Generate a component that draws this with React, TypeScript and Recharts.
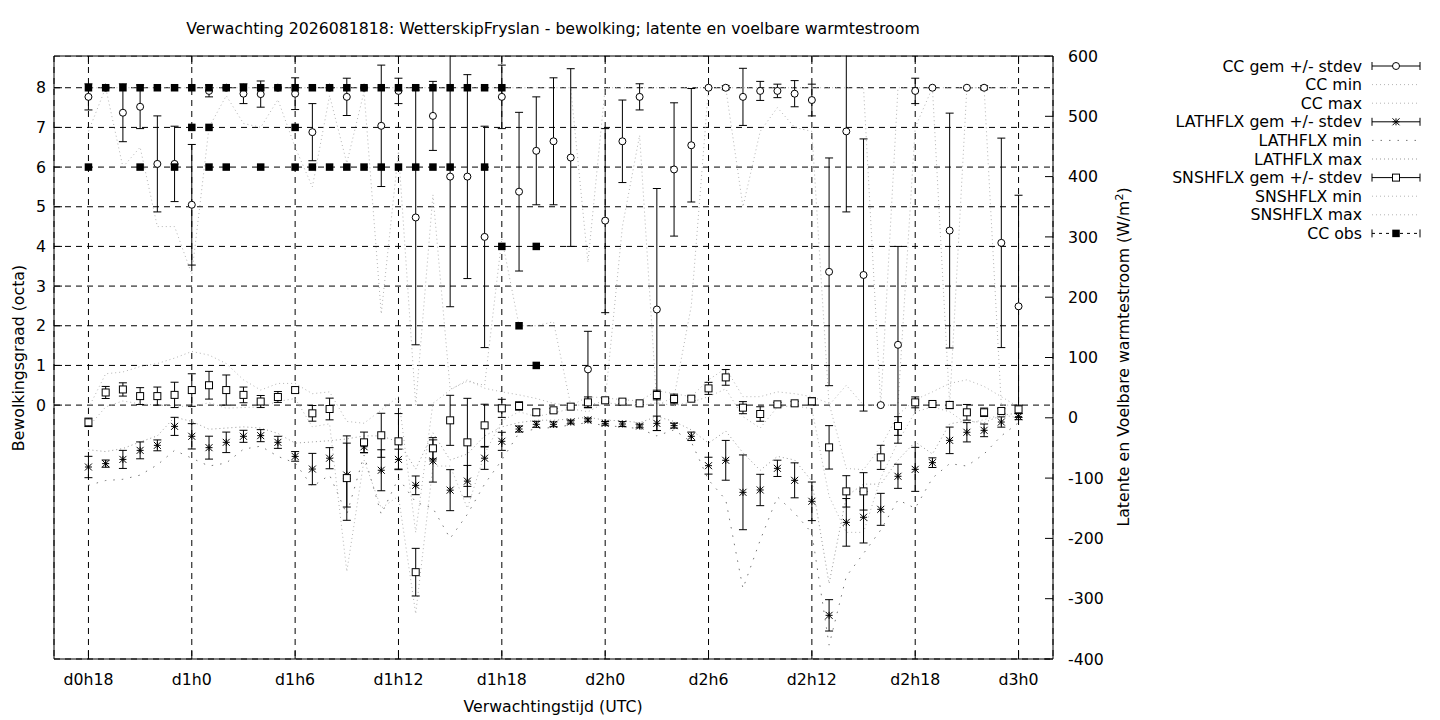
import React from 'react';
import { ComposedChart, Line, XAxis, YAxis, CartesianGrid, ErrorBar, ReferenceLine } from 'recharts';

// forecast hour offset from d0h18
const hours = [0, 1, 2, 3, 4, 5, 6, 7, 8, 9, 10, 11, 12, 13, 14, 15, 16, 17, 18, 19, 20, 21, 22, 23, 24, 25, 26, 27, 28, 29, 30, 31, 32, 33, 34, 35, 36, 37, 38, 39, 40, 41, 42, 43, 44, 45, 46, 47, 48, 49, 50, 51, 52, 53, 54];
const xTickValues = [0, 6, 12, 18, 24, 30, 36, 42, 48, 54];
const xTickLabels = ['d0h18', 'd1h0', 'd1h6', 'd1h12', 'd1h18', 'd2h0', 'd2h6', 'd2h12', 'd2h18', 'd3h0'];
const ccTicks = [0, 1, 2, 3, 4, 5, 6, 7, 8];
const fluxTicks = [-400, -300, -200, -100, 0, 100, 200, 300, 400, 500, 600];

// cloud cover (octa)
const ccMean = [7.77, 8, 7.37, 7.52, 6.08, 6.08, 5.05, 7.92, 8, 7.85, 7.84, 8, 7.85, 6.88, 8, 7.77, 8, 7.04, 7.92, 4.73, 7.29, 5.76, 5.76, 4.24, 7.77, 5.38, 6.41, 6.65, 6.24, 0.9, 4.65, 6.65, 7.77, 2.41, 5.94, 6.55, 8, 8, 7.77, 7.92, 7.92, 7.85, 7.69, 3.36, 6.9, 3.28, 0, 1.52, 7.92, 8, 4.4, 8, 8, 4.09, 2.49];
const ccStd = [0.33, 0, 0.73, 0.55, 1.21, 0.95, 1.52, 0.15, 0, 0.25, 0.33, 0, 0.4, 0.72, 0, 0.47, 0, 1.53, 0.32, 3.21, 0.87, 3.28, 2.57, 2.79, 0.8, 2.0, 1.36, 1.6, 2.24, 0.96, 2.32, 1.04, 0.33, 3.05, 1.68, 1.43, 0, 0.05, 0.72, 0.24, 0.17, 0.33, 0.4, 2.87, 2.03, 3.43, 0, 2.48, 0.32, 0, 2.96, 0, 0.05, 2.64, 2.8];
const ccMin = [6.9, 8, 6.0, 6.5, 4.5, 4.5, 3.3, 7.0, 7.8, 7.1, 7.0, 7.7, 6.5, 5.5, 7.8, 6.1, 7.9, 2.3, 6.4, 0, 5.3, 0.4, 0.6, 0.5, 4.2, 2.0, 2.0, 2.1, 0, 0, 0.1, 4.5, 6.8, 0, 0.2, 2.5, 8, 8, 5.0, 6.9, 7.5, 7.0, 6.9, 0, 0.5, 0, 0, 0, 7.0, 8, 0, 8, 8, 0, 0];
const ccMax = [8, 8, 8, 8, 8, 8, 8, 8, 8, 8, 8, 8, 8, 8, 8, 8, 8, 8, 8, 8, 8, 8, 8, 8, 8, 8, 8, 8, 8, 3.6, 8, 8, 8, 8, 8, 8, 8, 8, 8, 8, 8, 8, 8, 8, 8, 8, 0, 8, 8, 8, 8, 8, 8, 8, 8];

// latent heat flux (W/m2)
const lhMean = [-81.6, -76, -69, -54, -45.7, -14.2, -30.7, -49.5, -40.7, -30.7, -29.6, -40.7, -64, -85, -67, -95, -48, -87, -69, -112, -71.6, -120, -105, -67, -39, -18.6, -10.8, -10.8, -7, -3.6, -9.2, -10.3, -13.6, -9.2, -13, -30.7, -79.4, -70.5, -123.6, -119.7, -83.8, -103.7, -138.5, -327.6, -173.4, -165, -151.8, -97, -85.5, -74.4, -37.4, -24, -20.8, -7, 1.9];
const lhStd = [17.7, 6, 15, 14, 9, 15, 21, 19, 17, 10, 10, 10, 8, 26, 17.5, 53, 10, 34, 17, 15.5, 35, 34, 26, 18.5, 15, 5, 5, 4, 3, 3, 3, 4, 3, 12, 4, 7, 14, 33, 62, 26, 13.5, 29, 32, 26, 39.5, 42.6, 26.5, 20, 36.5, 8, 22, 16, 10.5, 8.5, 5];
const lhMin = [-112, -104, -102, -95, -78, -54, -67, -80, -75, -52, -47, -64, -75, -114, -95, -160, -62, -160, -100, -140, -150, -200, -160, -110, -70, -25, -18, -16, -12, -8, -13, -15, -18, -30, -20, -40, -103, -136, -283, -203, -131, -158, -191, -377, -263, -225, -186, -136, -150, -100, -76, -80, -60, -30, -8];
const lhMax = [-53, -56, -51, -40, -30, 1, -6, -19, -17, -15, -17, -26, -42, -40, -38, -35, -30, -30, -40, -85, -25, -70, -60, -30, -15, -8, -4, -4, -2, 1, -4, -5, -8, 2, -6, -20, -42, -22, -58, -87, -64, -70, -105, -275, -130, -110, -110, -70, -40, -60, -10, -5, -8, 4, 8];

// sensible heat flux (W/m2)
const snMean = [-7.5, 42, 47, 36, 36, 38, 46, 54, 46, 38, 27, 34.5, 46, 7.4, 14.6, -100, -40.7, -29, -39, -256, -50.6, -4.2, -40.7, -12.5, 15.7, 19.6, 9.1, 12.4, 18.5, 25.6, 29, 26.8, 24, 37.8, 31.2, 31.7, 48.8, 67, 16.8, 6.3, 22.3, 24, 27.3, -49, -122, -122, -65.6, -13.6, 25.6, 22.9, 21.2, 9.1, 9.1, 11.3, 14];
const snStd = [7, 10, 11, 14, 15, 21, 27, 23, 25, 13, 10, 9, 4, 13, 18, 70, 17, 36.5, 46, 39.5, 17.7, 41.5, 73, 35, 15, 7, 5, 3, 2, 9, 3, 3, 2, 8, 8, 3, 10, 13, 10, 12, 3, 3, 6, 36, 26, 31, 20, 15.5, 9, 2, 6, 13, 7, 4, 7];
const snMin = [-15, 18, 28, 23, 21, 20, 18, 25, 16, 17, 18, 27, 32, -15, -10, -255, -70, -150, -130, -325, -80, -80, -150, -60, -5, 10, 2, 8, 15, 10, 25, 22, 20, 25, 20, 26, 35, 48, 2, -17, 18, 20, 15, -130, -190, -190, -100, -40, 10, 18, 10, -10, -3, 5, 0];
const snMax = [16, 73, 76, 85, 90, 99, 110, 104, 90, 63, 46, 57, 57, 40, 43, -6, -9, 13, 35, -190, 24, 46, 63, 49, 43, 38, 32, 24, 20, 35, 33, 30, 28, 45, 40, 35, 63, 82, 35, 35, 43, 40, 35, 24, -84, -86, -48, 5, 30, 43, 57, 63, 52, 35, 18];

// observed cloud cover (several stations)
const obsA = [8, 8, 8, 8, 8, 8, 8, 8, 8, 8, 8, 8, 8, 8, 8, 8, 8, 8, 8, 8, 8, 8, 8, 8, 8, 2, 4, null, null, null, null, null, null, null, null, null, null, null, null, null, null, null, null, null, null, null, null, null, null, null, null, null, null, null, null];
const obsB = [6, null, null, 6, null, 6, 7, 7, 6, null, 6, null, 7, 6, 6, 6, 6, 6, 6, 6, 6, 6, null, 6, 4, null, 1, null, null, null, null, null, null, null, null, null, null, null, null, null, null, null, null, null, null, null, null, null, null, null, null, null, null, null, null];
const obsC = [null, null, null, null, null, null, null, 6, null, null, null, null, 6, null, null, null, null, null, null, null, null, null, null, null, null, null, null, null, null, null, null, null, null, null, null, null, null, null, null, null, null, null, null, null, null, null, null, null, null, null, null, null, null, null, null];

const rows = hours.map((t, i) => ({
  t,
  ccMean: ccMean[i], ccStd: ccStd[i], ccMin: ccMin[i], ccMax: ccMax[i],
  lhMean: lhMean[i], lhStd: lhStd[i], lhMin: lhMin[i], lhMax: lhMax[i],
  snMean: snMean[i], snStd: snStd[i], snMin: snMin[i], snMax: snMax[i],
  obsA: obsA[i], obsB: obsB[i], obsC: obsC[i],
}));

const FONT = '"DejaVu Sans", Verdana, sans-serif';
const FS = 15.75;
const LIGHT = '#b4b4b4';

const ok = (v: any) => typeof v === 'number' && isFinite(v);

const CircleDot = (p: any) => {
  if (!ok(p.cx) || !ok(p.cy) || p.value == null) return <g key={p.index} />;
  return <circle key={p.index} cx={p.cx} cy={p.cy} r={3.5} fill="#fff" stroke="#000" strokeWidth={1} />;
};
const OpenSquare = (p: any) => {
  if (!ok(p.cx) || !ok(p.cy) || p.value == null) return <g key={p.index} />;
  return <rect key={p.index} x={p.cx - 3.5} y={p.cy - 3.5} width={7} height={7} fill="#fff" stroke="#000" strokeWidth={1} />;
};
const FilledSquare = (p: any) => {
  if (!ok(p.cx) || !ok(p.cy) || p.value == null) return <g key={p.index} />;
  return <rect key={p.index} x={p.cx - 3.75} y={p.cy - 3.75} width={7.5} height={7.5} fill="#000" />;
};
const Star = (p: any) => {
  if (!ok(p.cx) || !ok(p.cy) || p.value == null) return <g key={p.index} />;
  const s = 3.5;
  const { cx, cy } = p;
  return (
    <g key={p.index} stroke="#000" strokeWidth={1}>
      <line x1={cx - s} y1={cy} x2={cx + s} y2={cy} />
      <line x1={cx} y1={cy - s} x2={cx} y2={cy + s} />
      <line x1={cx - s} y1={cy - s} x2={cx + s} y2={cy + s} />
      <line x1={cx - s} y1={cy + s} x2={cx + s} y2={cy - s} />
    </g>
  );
};

const XTick = (p: any) => {
  const i = xTickValues.indexOf(p.payload.value);
  return (
    <g>
      <line x1={p.x} y1={659} x2={p.x} y2={651} stroke="#000" />
      <line x1={p.x} y1={56} x2={p.x} y2={64} stroke="#000" />
      <text x={p.x} y={685} textAnchor="middle" fontFamily={FONT} fontSize={FS} fill="#000">{xTickLabels[i]}</text>
    </g>
  );
};
const LeftTick = (p: any) => (
  <g>
    <line x1={54} y1={p.y} x2={62} y2={p.y} stroke="#000" />
    <text x={46} y={p.y} dy="0.36em" textAnchor="end" fontFamily={FONT} fontSize={FS} fill="#000">{p.payload.value}</text>
  </g>
);
const RightTick = (p: any) => (
  <g>
    <line x1={1053} y1={p.y} x2={1045} y2={p.y} stroke="#000" />
    <text x={1068} y={p.y} dy="0.36em" textAnchor="start" fontFamily={FONT} fontSize={FS} fill="#000">{p.payload.value}</text>
  </g>
);

const legendRows = [
  { label: 'CC gem +/- stdev', kind: 'err', mark: 'circle' },
  { label: 'CC min', kind: 'dot', color: LIGHT, dash: '1 3' },
  { label: 'CC max', kind: 'dot', color: LIGHT, dash: '1 3' },
  { label: 'LATHFLX gem +/- stdev', kind: 'err', mark: 'star' },
  { label: 'LATHFLX min', kind: 'dot', color: '#777', dash: '1.5 7' },
  { label: 'LATHFLX max', kind: 'dot', color: '#999', dash: '1 3' },
  { label: 'SNSHFLX gem +/- stdev', kind: 'err', mark: 'square' },
  { label: 'SNSHFLX min', kind: 'dot', color: LIGHT, dash: '1 3' },
  { label: 'SNSHFLX max', kind: 'dot', color: LIGHT, dash: '1 3' },
  { label: 'CC obs', kind: 'obs', mark: 'fill' },
];

const Legend = () => {
  const x0 = 1372, x1 = 1420, xm = 1396;
  return (
    <g>
      {legendRows.map((r: any, i) => {
        const y = 66 + i * 18.6;
        return (
          <g key={r.label}>
            <text x={1362} y={y} dy="0.36em" textAnchor="end" fontFamily={FONT} fontSize={FS} fill="#000">{r.label}</text>
            {r.kind === 'dot' && <line x1={x0} y1={y} x2={x1} y2={y} stroke={r.color} strokeDasharray={r.dash} />}
            {(r.kind === 'err' || r.kind === 'obs') && (
              <g stroke="#000" strokeWidth={1}>
                <line x1={x0} y1={y} x2={x1} y2={y} strokeDasharray={r.kind === 'obs' ? '3 4' : undefined} />
                <line x1={x0} y1={y - 4} x2={x0} y2={y + 4} />
                <line x1={x1} y1={y - 4} x2={x1} y2={y + 4} />
              </g>
            )}
            {r.mark === 'circle' && <circle cx={xm} cy={y} r={3.5} fill="#fff" stroke="#000" />}
            {r.mark === 'square' && <rect x={xm - 3.5} y={y - 3.5} width={7} height={7} fill="#fff" stroke="#000" />}
            {r.mark === 'fill' && <rect x={xm - 3.75} y={y - 3.75} width={7.5} height={7.5} fill="#000" />}
            {r.mark === 'star' && (
              <g stroke="#000">
                <line x1={xm - 3.5} y1={y} x2={xm + 3.5} y2={y} />
                <line x1={xm} y1={y - 3.5} x2={xm} y2={y + 3.5} />
                <line x1={xm - 3.5} y1={y - 3.5} x2={xm + 3.5} y2={y + 3.5} />
                <line x1={xm - 3.5} y1={y + 3.5} x2={xm + 3.5} y2={y - 3.5} />
              </g>
            )}
          </g>
        );
      })}
    </g>
  );
};

export default function App() {
  return (
    <div style={{ position: 'absolute', left: 0, top: 0, width: 1440, height: 720, background: '#fff' }}>
      <ComposedChart width={1440} height={720} data={rows} margin={{ top: 56, right: 327, bottom: 0, left: 0 }}>
        <CartesianGrid yAxisId="left" stroke="#000" strokeDasharray="6 5" strokeWidth={1} />
        <XAxis dataKey="t" type="number" domain={[-2, 56]} ticks={xTickValues} allowDataOverflow
          height={61} tickSize={0} tickMargin={0} tickLine={false} axisLine={{ stroke: '#000' }} tick={<XTick />} interval={0} />
        <YAxis yAxisId="left" type="number" domain={[-6.4, 8.8]} ticks={ccTicks} allowDataOverflow width={54}
          tickSize={0} tickMargin={0} tickLine={false} axisLine={{ stroke: '#000' }} tick={<LeftTick />} interval={0} />
        <YAxis yAxisId="right" orientation="right" type="number" domain={[-400, 600]} ticks={fluxTicks} allowDataOverflow width={60}
          tickSize={0} tickMargin={0} tickLine={false} axisLine={{ stroke: '#000' }} tick={<RightTick />} interval={0} />

        <Line yAxisId="left" dataKey="ccMin" stroke={LIGHT} strokeDasharray="1 3" dot={false} activeDot={false} isAnimationActive={false} />
        <Line yAxisId="left" dataKey="ccMax" stroke={LIGHT} strokeDasharray="1 3" dot={false} activeDot={false} isAnimationActive={false} />
        <Line yAxisId="right" dataKey="lhMin" stroke="#777" strokeDasharray="1.5 7" dot={false} activeDot={false} isAnimationActive={false} />
        <Line yAxisId="right" dataKey="lhMax" stroke="#999" strokeDasharray="1 3" dot={false} activeDot={false} isAnimationActive={false} />
        <Line yAxisId="right" dataKey="snMin" stroke={LIGHT} strokeDasharray="1 3" dot={false} activeDot={false} isAnimationActive={false} />
        <Line yAxisId="right" dataKey="snMax" stroke={LIGHT} strokeDasharray="1 3" dot={false} activeDot={false} isAnimationActive={false} />

        <Line yAxisId="left" dataKey="ccMean" stroke="none" dot={(p: any) => <CircleDot key={p.index} {...p} />} activeDot={false} isAnimationActive={false}>
          <ErrorBar dataKey="ccStd" width={4} stroke="#000" strokeWidth={1} direction="y" />
        </Line>
        <Line yAxisId="right" dataKey="lhMean" stroke="none" dot={(p: any) => <Star key={p.index} {...p} />} activeDot={false} isAnimationActive={false}>
          <ErrorBar dataKey="lhStd" width={4} stroke="#000" strokeWidth={1} direction="y" />
        </Line>
        <Line yAxisId="right" dataKey="snMean" stroke="none" dot={(p: any) => <OpenSquare key={p.index} {...p} />} activeDot={false} isAnimationActive={false}>
          <ErrorBar dataKey="snStd" width={4} stroke="#000" strokeWidth={1} direction="y" />
        </Line>

        <Line yAxisId="left" dataKey="obsA" stroke="none" dot={(p: any) => <FilledSquare key={p.index} {...p} />} activeDot={false} isAnimationActive={false} />
        <Line yAxisId="left" dataKey="obsB" stroke="none" dot={(p: any) => <FilledSquare key={p.index} {...p} />} activeDot={false} isAnimationActive={false} />
        <Line yAxisId="left" dataKey="obsC" stroke="none" dot={(p: any) => <FilledSquare key={p.index} {...p} />} activeDot={false} isAnimationActive={false} />
      </ComposedChart>
      <svg width={1440} height={720} style={{ position: 'absolute', left: 0, top: 0, pointerEvents: 'none' }}>
        {/* mask error bars that overshoot the top of the plot frame */}
        <rect x={54} y={42} width={999} height={13.5} fill="#fff" />
        <line x1={54} y1={56} x2={1053} y2={56} stroke="#000" strokeWidth={1} />
        <text x={553} y={34} textAnchor="middle" fontFamily={FONT} fontSize={FS} fill="#000">
          Verwachting 2026081818: WetterskipFryslan - bewolking; latente en voelbare warmtestroom
        </text>
        <text x={553} y={712} textAnchor="middle" fontFamily={FONT} fontSize={FS} fill="#000">Verwachtingstijd (UTC)</text>
        <text x={18} y={358} dy="0.36em" textAnchor="middle" fontFamily={FONT} fontSize={FS} fill="#000" transform="rotate(-90 18 358)">
          Bewolkingsgraad (octa)
        </text>
        <text x={1123} y={357} dy="0.36em" textAnchor="middle" fontFamily={FONT} fontSize={FS} fill="#000" transform="rotate(-90 1123 357)">
          Latente en Voelbare warmtestroom (W/m<tspan dy="-6" fontSize={11}>2</tspan><tspan dy="6">)</tspan>
        </text>
        <Legend />
      </svg>
    </div>
  );
}
